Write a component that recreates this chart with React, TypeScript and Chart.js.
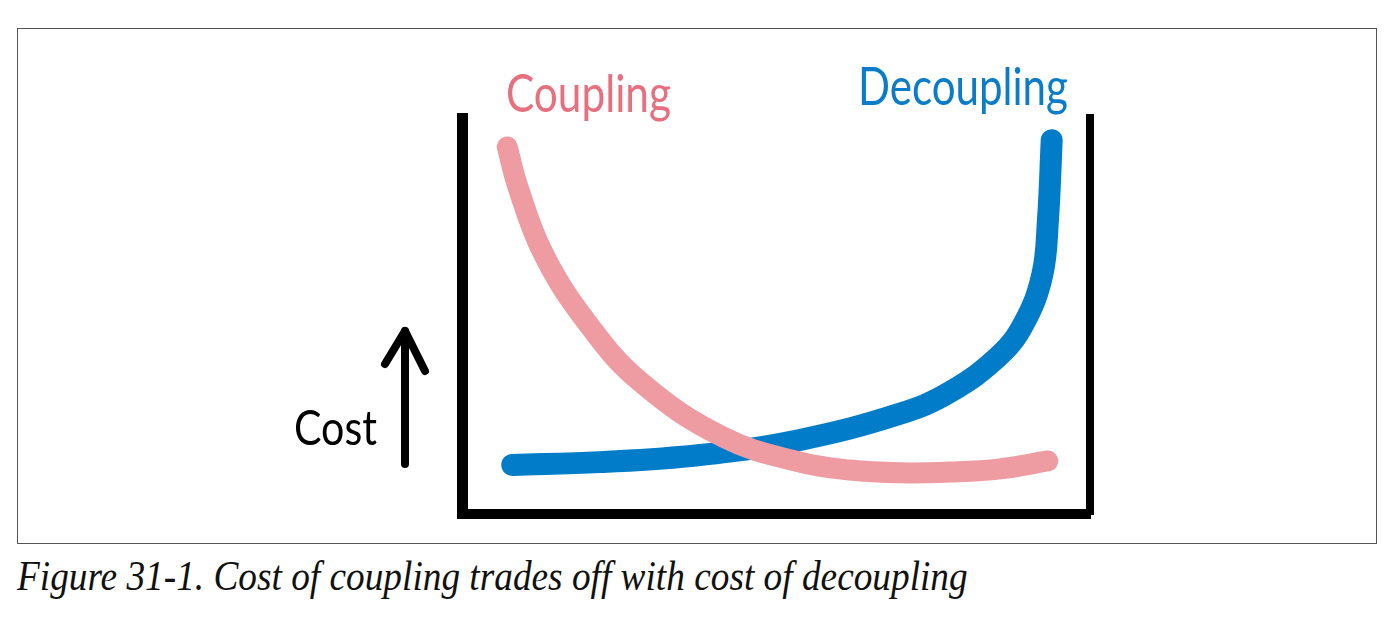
import React, { useEffect, useRef } from "react";
import { Chart, registerables } from "chart.js";

Chart.register(...registerables);

const couplingX = [7.2, 8.9, 12.9, 19.6, 28.3, 41.6, 53.8, 61.8, 69.7, 77.7, 85.7, 93.3];
const couplingY = [92.7, 82.6, 65.9, 49.0, 33.5, 19.4, 13.1, 11.1, 10.4, 10.6, 11.4, 13.4];
const decouplingX = [8.0, 22.0, 37.9, 53.8, 69.7, 77.7, 85.7, 89.6, 92.4, 93.3, 93.9];
const decouplingY = [12.4, 13.1, 14.9, 18.7, 25.3, 30.8, 40.2, 48.5, 60.4, 74.2, 94.4];
const seriesNames = ["Coupling", "Decoupling"];
const axisLabel = "Cost";
const caption = "Figure 31-1. Cost of coupling trades off with cost of decoupling";

const PINK = "#EE9BA2";
const BLUE = "#007CC8";

const labelPlugin = {
  id: "sketchLabels",
  afterDraw(chart: any) {
    const { ctx, chartArea } = chart;
    const L = chartArea.left;
    const T = chartArea.top;
    const B = chartArea.bottom;
    ctx.save();
    ctx.textBaseline = "alphabetic";
    ctx.font = "52px Lato";
    ctx.fillStyle = "#E8707E";
    ctx.fillText(seriesNames[0], L + 44, T - 6, 165);
    ctx.fillStyle = "#0A7CC9";
    ctx.fillText(seriesNames[1], L + 396, T - 13, 210);
    ctx.fillStyle = "#000";
    ctx.font = "48px Lato";
    ctx.fillText(axisLabel, L - 168, B - 69, 83);
    // arrow
    ctx.strokeStyle = "#000";
    ctx.lineWidth = 8;
    ctx.lineCap = "round";
    ctx.lineJoin = "round";
    const ax = L - 57;
    ctx.beginPath();
    ctx.moveTo(ax, B - 50);
    ctx.lineTo(ax, B - 183);
    ctx.stroke();
    ctx.beginPath();
    ctx.moveTo(ax - 20, B - 150);
    ctx.lineTo(ax, B - 183);
    ctx.lineTo(ax + 20, B - 143);
    ctx.stroke();
    ctx.restore();
  },
};

function ChartBox() {
  const ref = useRef<HTMLCanvasElement>(null);
  useEffect(() => {
    if (!ref.current) return;
    const chart = new Chart(ref.current, {
      type: "line",
      data: {
        datasets: [
          {
            label: seriesNames[0],
            data: couplingX.map((x, i) => ({ x, y: couplingY[i] })),
            borderColor: PINK,
            borderWidth: 21,
            borderCapStyle: "round",
            borderJoinStyle: "round",
            pointRadius: 0,
            tension: 0.4,
          },
          {
            label: seriesNames[1],
            data: decouplingX.map((x, i) => ({ x, y: decouplingY[i] })),
            borderColor: BLUE,
            borderWidth: 22,
            borderCapStyle: "round",
            borderJoinStyle: "round",
            pointRadius: 0,
            tension: 0.4,
          },
        ] as any,
      },
      options: {
        animation: false,
        responsive: false,
        maintainAspectRatio: false,
        layout: { padding: { left: 444, right: 286, top: 89, bottom: 29 } },
        plugins: { legend: { display: false }, tooltip: { enabled: false } },
        scales: {
          x: {
            type: "linear",
            min: 0,
            max: 100,
            ticks: { display: false },
            grid: { display: false, drawTicks: false },
            border: { display: true, color: "#000", width: 10 },
            afterFit: (s: any) => { s.height = 0; },
          },
          y: {
            min: 0,
            max: 100,
            ticks: { display: false },
            grid: { display: false, drawTicks: false },
            border: { display: true, color: "#000", width: 11 },
            afterFit: (s: any) => { s.width = 0; },
          },
          y2: {
            position: "right",
            min: 0,
            max: 100,
            ticks: { display: false },
            grid: { display: false, drawTicks: false },
            border: { display: true, color: "#000", width: 8 },
            afterFit: (s: any) => { s.width = 0; },
          },
        } as any,
      },
      plugins: [labelPlugin],
    });
    return () => chart.destroy();
  }, []);
  return <canvas ref={ref} width={1358} height={514} style={{ display: "block" }} />;
}

export default function App() {
  return (
    <div style={{ position: "absolute", left: 0, top: 0, width: 1400, height: 627, background: "#fff" }}>
      <div
        style={{
          position: "absolute",
          left: 17,
          top: 28,
          width: 1358,
          height: 514,
          border: "1px solid #555",
        }}
      >
        <ChartBox />
      </div>
      <div
        style={{
          position: "absolute",
          left: 17,
          top: 552,
          fontFamily: "'Liberation Serif', serif",
          fontStyle: "italic",
          fontSize: 42,
          whiteSpace: "nowrap",
          transformOrigin: "left top",
          transform: "scaleX(0.888)",
          color: "#111",
        }}
      >
        {caption}
      </div>
    </div>
  );
}
